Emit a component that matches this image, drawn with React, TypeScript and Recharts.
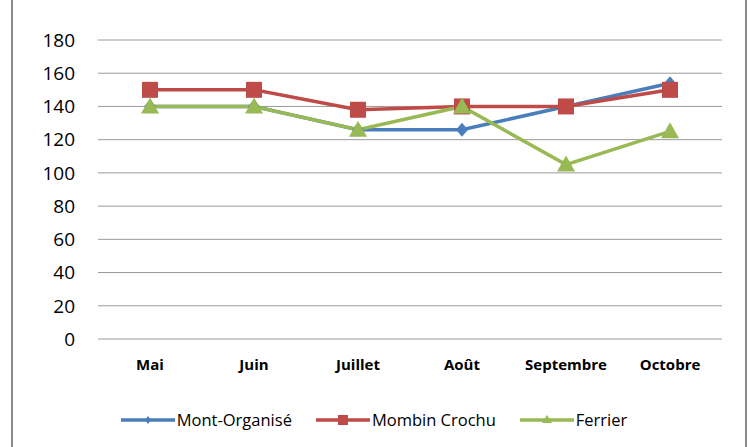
import { CartesianGrid, Legend, Line, LineChart, XAxis, YAxis } from "recharts";

const mois = ["Mai", "Juin", "Juillet", "Août", "Septembre", "Octobre"];
const montOrganise = [140, 140, 126, 126, 140, 154];
const mombinCrochu = [150, 150, 138, 140, 140, 150];
const ferrier = [140, 140, 126, 140, 105, 125];
const yTicks = [0, 20, 40, 60, 80, 100, 120, 140, 160, 180];

const BLEU = "#4A7EBB";
const ROUGE = "#BE4B48";
const VERT = "#98B954";
const FONT = "'Open Sans', sans-serif";

const data = mois.map((m, i) => ({
  mois: m,
  mont: montOrganise[i],
  mombin: mombinCrochu[i],
  ferrier: ferrier[i],
}));

const Losange = (props: any) => {
  const { cx, cy } = props;
  if (cx == null || cy == null) return null;
  return (
    <polygon
      points={`${cx},${cy - 7} ${cx + 6},${cy} ${cx},${cy + 7} ${cx - 6},${cy}`}
      fill={BLEU}
    />
  );
};

const Carre = (props: any) => {
  const { cx, cy } = props;
  if (cx == null || cy == null) return null;
  return <rect x={cx - 8} y={cy - 8} width={16} height={16} fill={ROUGE} />;
};

const Triangle = (props: any) => {
  const { cx, cy } = props;
  if (cx == null || cy == null) return null;
  return (
    <polygon
      points={`${cx},${cy - 9} ${cx + 9},${cy + 7} ${cx - 9},${cy + 7}`}
      fill={VERT}
    />
  );
};

const legendItems = [
  { label: "Mont-Organisé", color: BLEU, marker: "losange" },
  { label: "Mombin Crochu", color: ROUGE, marker: "carre" },
  { label: "Ferrier", color: VERT, marker: "triangle" },
];

const LegendeContenu = () => (
  <div
    style={{
      display: "flex",
      justifyContent: "center",
      gap: 24,
      fontFamily: FONT,
      fontSize: 16.5,
      color: "#000",
      paddingTop: 2,
      paddingLeft: 26,
    }}
  >
    {legendItems.map((it) => (
      <div key={it.label} style={{ display: "flex", alignItems: "center" }}>
        <svg width={54} height={14} style={{ marginRight: 2 }}>
          <line x1={0} y1={7} x2={54} y2={7} stroke={it.color} strokeWidth={3.5} />
          {it.marker === "losange" && (
            <polygon points="27,3 30,7 27,11 24,7" fill={it.color} />
          )}
          {it.marker === "carre" && (
            <rect x={22} y={2} width={10} height={10} fill={it.color} />
          )}
          {it.marker === "triangle" && (
            <polygon points="27,2 32,10 22,10" fill={it.color} />
          )}
        </svg>
        <span>{it.label}</span>
      </div>
    ))}
  </div>
);

export default function App() {
  return (
    <div
      style={{
        position: "absolute",
        left: 0,
        top: 0,
        width: 748,
        height: 447,
        background: "#fff",
      }}
    >
      <div
        style={{
          position: "absolute",
          left: 11,
          top: 0,
          width: 732,
          height: 447,
          borderLeft: "2px solid #8a8a8a",
          borderRight: "2px solid #8a8a8a",
        }}
      />
      <LineChart
        width={748}
        height={447}
        data={data}
        margin={{ top: 40, right: 26, bottom: 17, left: 0 }}
      >
        <CartesianGrid vertical={false} stroke="#9a9a9a" strokeWidth={1} />
        <XAxis
          dataKey="mois"
          axisLine={false}
          tickLine={false}
          tickSize={0}
          tickMargin={20}
          padding={{ left: 52, right: 52 }}
          height={67}
          interval={0}
          tick={{ fill: "#000", fontFamily: FONT, fontSize: 15, fontWeight: 700 }}
        />
        <YAxis
          width={98}
          domain={[0, 180]}
          ticks={yTicks}
          axisLine={false}
          tickLine={false}
          tickSize={0}
          tickMargin={23}
          tick={{ fill: "#000", fontFamily: FONT, fontSize: 19 }}
        />
        <Legend verticalAlign="bottom" height={24} content={<LegendeContenu />} />
        <Line
          dataKey="mont"
          name="Mont-Organisé"
          stroke={BLEU}
          strokeWidth={3.5}
          dot={<Losange />}
          activeDot={false}
          isAnimationActive={false}
        />
        <Line
          dataKey="mombin"
          name="Mombin Crochu"
          stroke={ROUGE}
          strokeWidth={3.5}
          dot={<Carre />}
          activeDot={false}
          isAnimationActive={false}
        />
        <Line
          dataKey="ferrier"
          name="Ferrier"
          stroke={VERT}
          strokeWidth={3.5}
          dot={<Triangle />}
          activeDot={false}
          isAnimationActive={false}
        />
      </LineChart>
    </div>
  );
}
